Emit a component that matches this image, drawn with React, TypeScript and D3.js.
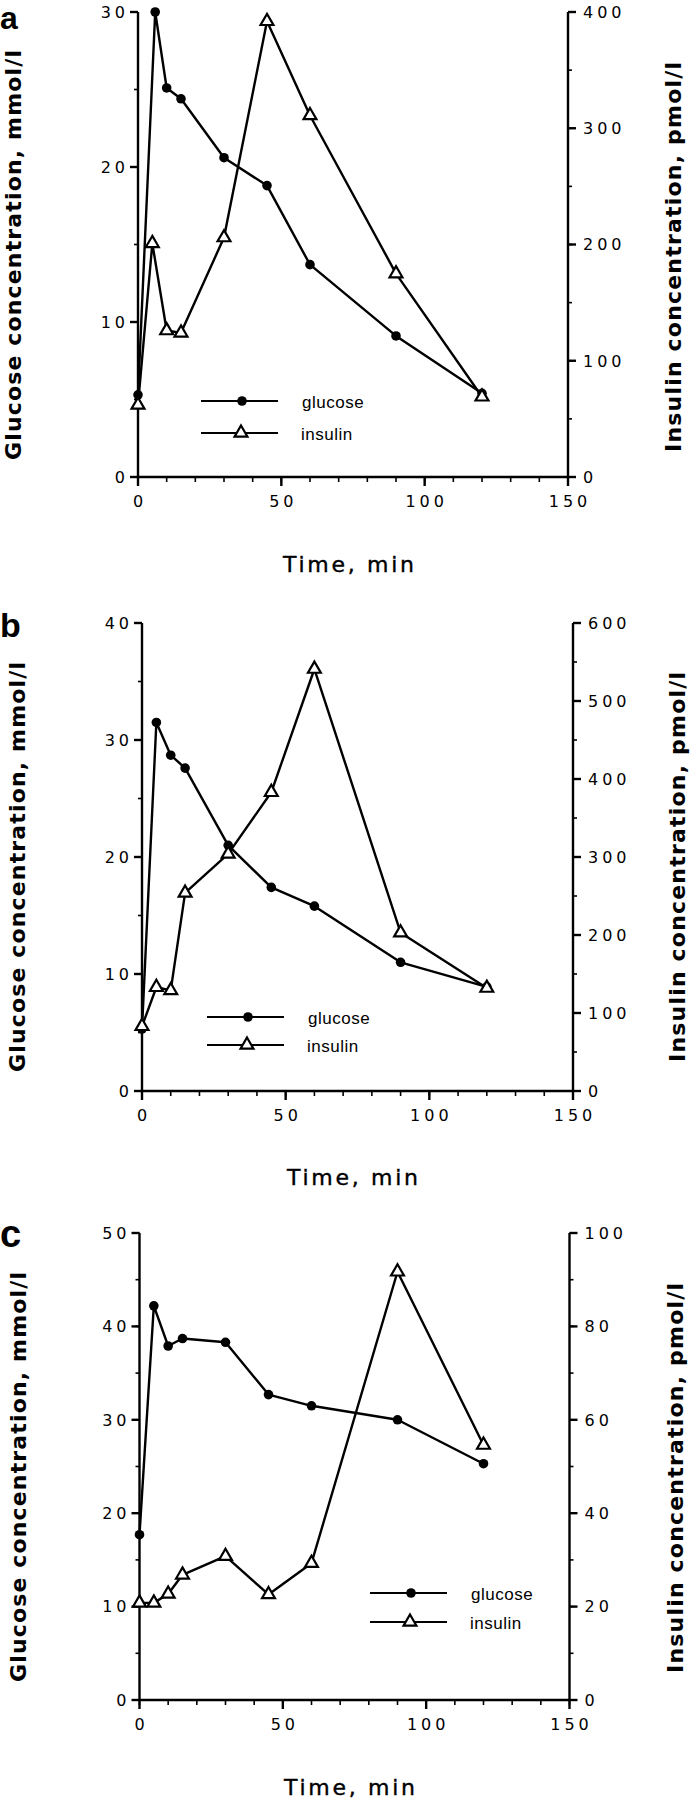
import React from "react";
import * as d3 from "d3";

// ---------- data ----------
const TIMES = [0, 5, 10, 15, 30, 45, 60, 90, 120];
const GLUCOSE_TIMES_A = [0, 6, 10, 15, 30, 45, 60, 90, 120];

const GLUCOSE_A = [5.3, 30.0, 25.1, 24.4, 20.6, 18.8, 13.7, 9.1, 5.4];
const INSULIN_A = [62, 201, 126, 124, 206, 392, 311, 175, 69];

const GLUCOSE_B = [5.3, 31.5, 28.7, 27.6, 21.0, 17.4, 15.8, 11.0, 8.9];
const INSULIN_B = [83, 133, 129, 254, 304, 383, 541, 203, 132];

const GLUCOSE_C = [17.7, 42.2, 37.9, 38.7, 38.3, 32.7, 31.5, 30.0, 25.3];
const INSULIN_C = [20.8, 20.8, 22.7, 26.8, 30.8, 22.6, 29.3, 91.7, 54.6];

const X_MAJOR = [0, 50, 100, 150];
const X_MINOR = d3.range(0, 151, 10);

const LEFT_MAJOR_A = [0, 10, 20, 30];
const LEFT_MAJOR_B = [0, 10, 20, 30, 40];
const LEFT_MAJOR_C = [0, 10, 20, 30, 40, 50];
const RIGHT_MAJOR_A = [0, 100, 200, 300, 400];
const RIGHT_MAJOR_B = [0, 100, 200, 300, 400, 500, 600];
const RIGHT_MAJOR_C = [0, 20, 40, 60, 80, 100];

const PANEL_LABELS = ["a", "b", "c"];
const SERIES_NAMES = ["glucose", "insulin"];
const X_TITLE = "Time, min";
const LEFT_TITLE = "Glucose concentration, mmol/l";
const RIGHT_TITLE = "Insulin concentration, pmol/l";

// ---------- layout ----------
const panels = [
  {
    label: PANEL_LABELS[0], labelSize: 32, labelBase: 29,
    x0: 138, x1: 568, yB: 477, yT: 12,
    leftMax: 30, leftMajor: LEFT_MAJOR_A, leftMinorStep: 5,
    rightMax: 400, rightMajor: RIGHT_MAJOR_A, rightMinorStep: 50,
    gT: GLUCOSE_TIMES_A, g: GLUCOSE_A, iT: TIMES, ins: INSULIN_A,
    leftTitleX: 21, leftTitleC: 255, rightTitleX: 681, rightTitleC: 257,
    legX: 201, legY1: 401, legY2: 433, xTitleBase: 572, xTitleC: 348.5,
  },
  {
    label: PANEL_LABELS[1], labelSize: 34, labelBase: 637,
    x0: 142, x1: 573, yB: 1091, yT: 623,
    leftMax: 40, leftMajor: LEFT_MAJOR_B, leftMinorStep: 5,
    rightMax: 600, rightMajor: RIGHT_MAJOR_B, rightMinorStep: 50,
    gT: TIMES, g: GLUCOSE_B, iT: TIMES, ins: INSULIN_B,
    leftTitleX: 25, leftTitleC: 867, rightTitleX: 685, rightTitleC: 867,
    legX: 207, legY1: 1017, legY2: 1045, xTitleBase: 1185, xTitleC: 352.5,
  },
  {
    label: PANEL_LABELS[2], labelSize: 38, labelBase: 1247,
    x0: 139.5, x1: 569.5, yB: 1700, yT: 1233,
    leftMax: 50, leftMajor: LEFT_MAJOR_C, leftMinorStep: 5,
    rightMax: 100, rightMajor: RIGHT_MAJOR_C, rightMinorStep: 10,
    gT: TIMES, g: GLUCOSE_C, iT: TIMES, ins: INSULIN_C,
    leftTitleX: 26, leftTitleC: 1477, rightTitleX: 683, rightTitleC: 1478,
    legX: 370, legY1: 1593, legY2: 1622, xTitleBase: 1795, xTitleC: 349.5,
  },
];

const TICK_FONT = "'DejaVu Sans', sans-serif";
const TICK_SIZE = 16;
const TICK_LS = 4;
const LW = 2.4;
const triPath = d3.symbol(d3.symbolTriangle, 72)() as string;

function Panel({ p }: { p: any }) {
  const x = d3.scaleLinear().domain([0, 150]).range([p.x0, p.x1]);
  const yL = d3.scaleLinear().domain([0, p.leftMax]).range([p.yB, p.yT]);
  const yR = d3.scaleLinear().domain([0, p.rightMax]).range([p.yB, p.yT]);
  const leftMinor = d3.range(0, p.leftMax + 0.001, p.leftMinorStep);
  const rightMinor = d3.range(0, p.rightMax + 0.001, p.rightMinorStep);

  const gPts: [number, number][] = p.g.map((v: number, i: number) => [x(p.gT[i]), yL(v)]);
  const iPts: [number, number][] = p.ins.map((v: number, i: number) => [x(p.iT[i]), yR(v)]);
  const line = d3.line();

  const ax = { stroke: "#000", strokeWidth: LW, fill: "none" } as any;
  const xl = x(0);
  const xr = x(150);

  return (
    <g>
      <text x={0} y={p.labelBase} fontFamily="'Liberation Sans', Arial, sans-serif" fontWeight="bold" fontSize={p.labelSize}>{p.label}</text>

      {/* axes lines */}
      <line x1={xl} x2={xl} y1={p.yB} y2={p.yT} {...ax} />
      <line x1={xr} x2={xr} y1={p.yB} y2={p.yT} {...ax} />
      <line x1={xl} x2={xr} y1={p.yB} y2={p.yB} {...ax} />

      {/* left ticks */}
      {leftMinor.map((v: number) => (
        <line key={"lm" + v} x1={xl - 4} x2={xl} y1={yL(v)} y2={yL(v)} stroke="#000" strokeWidth={1.6} />
      ))}
      {p.leftMajor.map((v: number) => (
        <g key={"lM" + v}>
          <line x1={xl - 8} x2={xl} y1={yL(v)} y2={yL(v)} stroke="#000" strokeWidth={LW} />
          <text x={xl - 13 + TICK_LS} y={yL(v)} dy="0.36em" textAnchor="end" fontFamily={TICK_FONT} fontSize={TICK_SIZE} letterSpacing={TICK_LS}>{v}</text>
        </g>
      ))}

      {/* right ticks */}
      {rightMinor.map((v: number) => (
        <line key={"rm" + v} x1={xr} x2={xr + 4} y1={yR(v)} y2={yR(v)} stroke="#000" strokeWidth={1.6} />
      ))}
      {p.rightMajor.map((v: number) => (
        <g key={"rM" + v}>
          <line x1={xr} x2={xr + 8} y1={yR(v)} y2={yR(v)} stroke="#000" strokeWidth={LW} />
          <text x={xr + 15} y={yR(v)} dy="0.36em" textAnchor="start" fontFamily={TICK_FONT} fontSize={TICK_SIZE} letterSpacing={TICK_LS}>{v}</text>
        </g>
      ))}

      {/* bottom ticks */}
      {X_MINOR.map((v: number) => (
        <line key={"xm" + v} x1={x(v)} x2={x(v)} y1={p.yB} y2={p.yB + 5} stroke="#000" strokeWidth={1.6} />
      ))}
      {X_MAJOR.map((v: number) => (
        <g key={"xM" + v}>
          <line x1={x(v)} x2={x(v)} y1={p.yB} y2={p.yB + 9} stroke="#000" strokeWidth={LW} />
          <text x={x(v) + TICK_LS / 2} y={p.yB + 30} textAnchor="middle" fontFamily={TICK_FONT} fontSize={TICK_SIZE} letterSpacing={TICK_LS}>{v}</text>
        </g>
      ))}

      {/* series */}
      <path d={line(gPts) as string} stroke="#000" strokeWidth={LW} fill="none" strokeLinejoin="round" />
      <path d={line(iPts) as string} stroke="#000" strokeWidth={LW} fill="none" strokeLinejoin="round" />
      {gPts.map((pt, i) => (
        <circle key={"g" + i} cx={pt[0]} cy={pt[1]} r={4.8} fill="#000" />
      ))}
      {iPts.map((pt, i) => (
        <path key={"i" + i} d={triPath} transform={`translate(${pt[0]},${pt[1]})`} fill="#fff" stroke="#000" strokeWidth={2.2} />
      ))}

      {/* legend */}
      <line x1={p.legX} x2={p.legX + 77} y1={p.legY1} y2={p.legY1} stroke="#000" strokeWidth={1.8} />
      <circle cx={p.legX + 41} cy={p.legY1} r={4.8} fill="#000" />
      <text x={p.legX + 101} y={p.legY1 + 7} fontFamily="'Liberation Sans', Arial, sans-serif" fontSize={17} letterSpacing={0.5}>{SERIES_NAMES[0]}</text>
      <line x1={p.legX} x2={p.legX + 77} y1={p.legY2} y2={p.legY2} stroke="#000" strokeWidth={1.8} />
      <path d={triPath} transform={`translate(${p.legX + 40},${p.legY2})`} fill="#fff" stroke="#000" strokeWidth={2.2} />
      <text x={p.legX + 100} y={p.legY2 + 7} fontFamily="'Liberation Sans', Arial, sans-serif" fontSize={17} letterSpacing={0.5}>{SERIES_NAMES[1]}</text>

      {/* titles */}
      <text x={p.xTitleC} y={p.xTitleBase} textAnchor="middle" fontFamily={TICK_FONT} fontSize={22} stroke="#000" strokeWidth={0.4} textLength={131} lengthAdjust="spacing">{X_TITLE}</text>
      <text transform={`translate(${p.leftTitleX},${p.leftTitleC}) rotate(-90)`} textAnchor="middle" fontFamily={TICK_FONT} fontWeight="bold" fontSize={22} textLength={410} lengthAdjust="spacing">{LEFT_TITLE}</text>
      <text transform={`translate(${p.rightTitleX},${p.rightTitleC}) rotate(-90)`} textAnchor="middle" fontFamily={TICK_FONT} fontWeight="bold" fontSize={22} textLength={390} lengthAdjust="spacing">{RIGHT_TITLE}</text>
    </g>
  );
}

export default function App() {
  return (
    <svg width={692} height={1800} style={{ position: "absolute", left: 0, top: 0, background: "#fff" }}>
      <rect x={0} y={0} width={692} height={1800} fill="#fff" />
      {panels.map((p) => (
        <Panel key={p.label} p={p} />
      ))}
    </svg>
  );
}
